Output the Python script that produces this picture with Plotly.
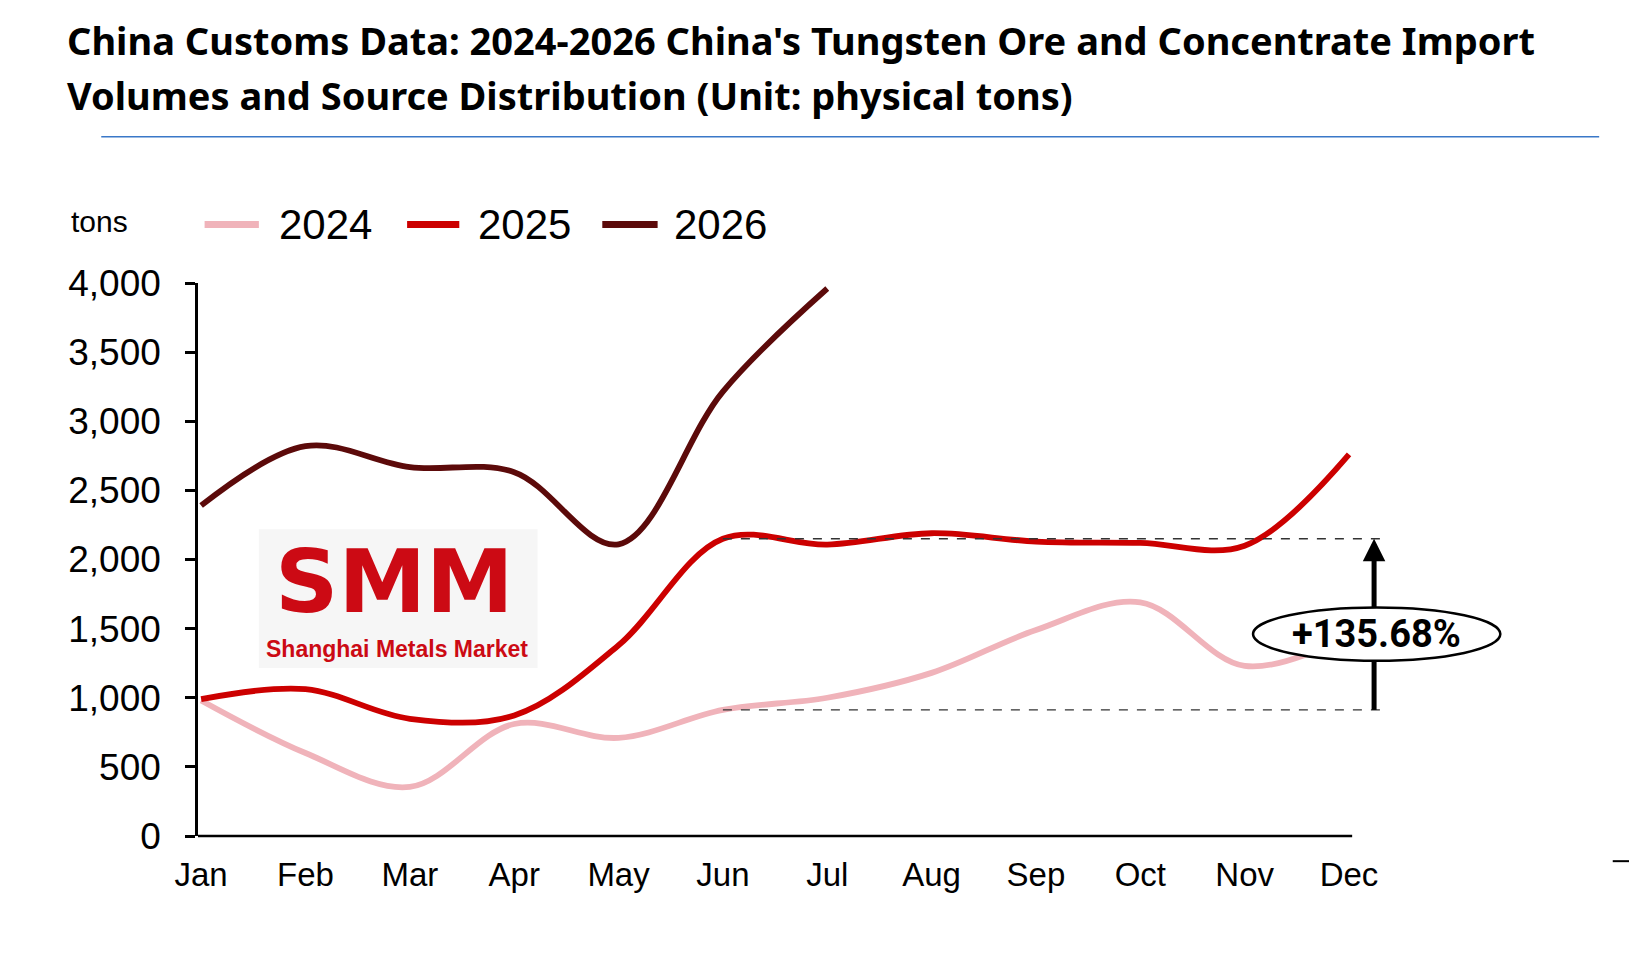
import plotly.graph_objects as go

months = ["Jan", "Feb", "Mar", "Apr", "May", "Jun", "Jul", "Aug", "Sep", "Oct", "Nov", "Dec"]
vol_2024 = [980, 600, 355, 810, 710, 912, 1000, 1180, 1490, 1690, 1230, 1450]
vol_2025 = [990, 1062, 848, 872, 1380, 2150, 2108, 2190, 2130, 2120, 2100, 2760]
vol_2026 = [2390, 2820, 2668, 2632, 2110, 3215, 3960]
y_ticks = [0, 500, 1000, 1500, 2000, 2500, 3000, 3500, 4000]
growth_label = "+135.68%"

colors = {"2024": "#F0B3BA", "2025": "#CC0000", "2026": "#5C0A0A"}
series = {"2024": vol_2024, "2025": vol_2025, "2026": vol_2026}

W, H = 1637, 961
L, R, T, B = 190, 129, 275, 133
pw, ph = W - L - R, H - T - B
SC, OFF = 0.958, 8  # measured positions were taken on a scaled view


def px(d):
    return (d / SC - OFF - L) / pw


def py(d):
    return (H - B - (d / SC - OFF)) / ph


fig = go.Figure()

for name, vals in series.items():
    fig.add_trace(
        go.Scatter(
            x=list(range(len(vals))),
            y=vals,
            mode="lines",
            name=name,
            line=dict(color=colors[name], width=5.8, shape="spline", smoothing=1.0),
            showlegend=False,
        )
    )

jun = months.index("Jun")
hi, lo = vol_2025[jun], vol_2024[jun]
arrow_x = len(months) - 1 + 0.24
ell_x0, ell_x1, ell_y0, ell_y1 = 10.08, 12.45, 1268, 1653

shapes = []
for v in (hi, lo):
    shapes.append(dict(type="line", xref="x", yref="y", x0=jun, x1=11.38, y0=v, y1=v,
                       line=dict(color="#333333", width=1.3, dash="dash")))
shapes.append(dict(type="line", xref="x", yref="y", x0=arrow_x, x1=arrow_x, y0=lo, y1=1300,
                   line=dict(color="black", width=5)))
shapes.append(dict(type="circle", xref="x", yref="y", x0=ell_x0, x1=ell_x1, y0=ell_y0, y1=ell_y1,
                   fillcolor="white", line=dict(color="black", width=2.5)))
# x axis line (stops at Dec)
shapes.append(dict(type="line", xref="x", yref="paper", x0=-0.03, x1=11.03, y0=0, y1=0,
                   line=dict(color="black", width=2.5)))
# blue rule under title
shapes.append(dict(type="line", xref="paper", yref="paper", x0=px(97), x1=px(1532),
                   y0=py(131), y1=py(131), line=dict(color="#3A78C8", width=1.5)))
# logo box
shapes.append(dict(type="rect", xref="paper", yref="paper", x0=px(248), x1=px(515),
                   y0=py(640), y1=py(507), fillcolor="#F6F6F6", line=dict(width=0), layer="below"))
# stray mark at bottom right edge
shapes.append(dict(type="line", xref="paper", yref="paper", x0=px(1545), x1=px(1570),
                   y0=py(825), y1=py(825), line=dict(color="black", width=2)))

annotations = [
    dict(x=arrow_x, y=hi, ax=arrow_x, ay=1640, xref="x", yref="y", axref="x", ayref="y",
         showarrow=True, arrowhead=2, arrowsize=0.9, arrowwidth=5, arrowcolor="black", text=""),
    dict(x=(ell_x0 + ell_x1) / 2, y=(ell_y0 + ell_y1) / 2, xref="x", yref="y",
         xanchor="center", yanchor="middle", text="<b>" + growth_label + "</b>",
         showarrow=False, font=dict(family="Roboto", size=38, color="black")),
    dict(x=px(62), y=py(38), xref="paper", yref="paper", xanchor="left", yanchor="middle",
         text="<b>China Customs Data: 2024-2026 China's Tungsten Ore and Concentrate Import</b>",
         showarrow=False, font=dict(family="Noto Sans", size=38, color="black")),
    dict(x=px(62), y=py(91), xref="paper", yref="paper", xanchor="left", yanchor="middle",
         text="<b>Volumes and Source Distribution (Unit: physical tons)</b>",
         showarrow=False, font=dict(family="Noto Sans", size=38, color="black")),
    dict(x=px(95), y=py(212), xref="paper", yref="paper", xanchor="center", yanchor="middle",
         text="tons", showarrow=False,
         font=dict(family="Liberation Sans", size=30, color="black")),
    dict(x=px(378), y=py(557), xref="paper", yref="paper", xanchor="center", yanchor="middle",
         text="<b>SMM</b>", showarrow=False,
         font=dict(family="DejaVu Sans", size=88, color="#CC0A14")),
    dict(x=px(380), y=py(622), xref="paper", yref="paper", xanchor="center", yanchor="middle",
         text="<b>Shanghai Metals Market</b>", showarrow=False,
         font=dict(family="Liberation Sans", size=23, color="#CC0A14")),
]

# hand-drawn legend
legend_pos = {"2024": (196, 248, 265), "2025": (390, 440, 456), "2026": (577, 630, 644)}
for name, (a, b, t) in legend_pos.items():
    shapes.append(dict(type="line", xref="paper", yref="paper", x0=px(a), x1=px(b),
                       y0=py(215), y1=py(215), line=dict(color=colors[name], width=7)))
    annotations.append(dict(x=px(t), y=py(215), xref="paper", yref="paper",
                            xanchor="left", yanchor="middle", text=name, showarrow=False,
                            font=dict(family="Liberation Sans", size=42, color="black")))

fig.update_layout(
    width=W,
    height=H,
    margin=dict(l=L, r=R, t=T, b=B),
    plot_bgcolor="white",
    paper_bgcolor="white",
    shapes=shapes,
    annotations=annotations,
    showlegend=False,
)
fig.update_xaxes(
    range=[-0.03, 12.6],
    tickvals=list(range(len(months))),
    ticktext=months,
    showline=False,
    showgrid=False,
    zeroline=False,
    ticks="",
    ticklabelstandoff=16,
    tickfont=dict(family="Liberation Sans", size=33, color="black"),
)
fig.update_yaxes(
    range=[0, 4000],
    tickvals=y_ticks,
    tickformat=",",
    showline=True,
    linecolor="black",
    linewidth=2.5,
    ticks="outside",
    ticklen=10,
    tickwidth=2.5,
    tickcolor="black",
    showgrid=False,
    zeroline=False,
    ticklabelstandoff=17,
    tickfont=dict(family="Liberation Sans", size=37, color="black"),
)

fig.write_html("out.html")
